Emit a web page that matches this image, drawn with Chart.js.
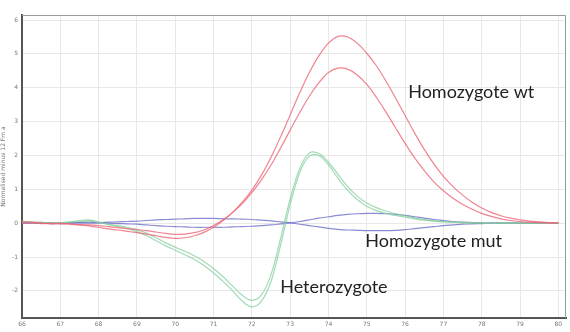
<!DOCTYPE html>
<html>
<head>
<meta charset="utf-8">
<script src="https://cdn.jsdelivr.net/npm/chart.js@4.4.1/dist/chart.umd.min.js"></script>
<style>
html,body{margin:0;padding:0;background:#fff;}
#wrap{width:570px;height:332px;position:relative;}
</style>
</head>
<body>
<div id="wrap"><canvas id="c" width="570" height="332"></canvas></div>
<script>
const temps = [66,66.25,66.5,66.75,67,67.25,67.5,67.75,68,68.25,68.5,68.75,69,69.25,69.5,69.75,70,70.25,70.5,70.75,71,71.25,71.5,71.75,72,72.25,72.5,72.75,73,73.25,73.5,73.75,74,74.25,74.5,74.75,75,75.25,75.5,75.75,76,76.25,76.5,76.75,77,77.25,77.5,77.75,78,78.25,78.5,78.75,79,79.25,79.5,79.75,80];

const wtHigh = [0.05,0.03,0.0,-0.02,0.0,-0.03,-0.05,-0.08,-0.12,-0.17,-0.2,-0.24,-0.28,-0.32,-0.37,-0.42,-0.45,-0.43,-0.37,-0.27,-0.12,0.08,0.32,0.62,0.98,1.42,1.95,2.55,3.2,3.85,4.45,4.95,5.32,5.52,5.5,5.32,5.02,4.65,4.2,3.7,3.18,2.66,2.18,1.75,1.38,1.08,0.83,0.62,0.45,0.32,0.22,0.15,0.1,0.06,0.04,0.02,0.01];
const wtLow = [0.0,0.02,-0.01,0.0,-0.02,-0.02,-0.04,-0.05,-0.07,-0.1,-0.13,-0.16,-0.19,-0.22,-0.26,-0.3,-0.33,-0.32,-0.28,-0.2,-0.07,0.1,0.32,0.58,0.9,1.28,1.72,2.22,2.75,3.27,3.75,4.15,4.45,4.58,4.55,4.38,4.1,3.72,3.28,2.82,2.36,1.93,1.55,1.22,0.96,0.74,0.56,0.41,0.29,0.2,0.13,0.08,0.05,0.03,0.02,0.01,0.0];
const hetA = [0.06,0.02,0.03,-0.01,0.02,0.04,0.08,0.1,0.04,-0.04,-0.1,-0.16,-0.25,-0.37,-0.52,-0.67,-0.8,-0.93,-1.07,-1.25,-1.47,-1.72,-2.0,-2.3,-2.47,-2.3,-1.72,-0.65,0.55,1.5,1.98,2.0,1.72,1.33,0.97,0.7,0.5,0.37,0.29,0.23,0.18,0.13,0.09,0.06,0.04,0.03,0.02,0.01,0.01,0,0,0,0,0,0,0,0];
const hetB = [0.02,0.04,0.01,0.02,0.0,0.03,0.05,0.07,0.02,-0.03,-0.07,-0.12,-0.19,-0.29,-0.43,-0.58,-0.71,-0.83,-0.96,-1.13,-1.34,-1.58,-1.86,-2.13,-2.28,-2.12,-1.52,-0.45,0.72,1.62,2.07,2.06,1.8,1.44,1.08,0.8,0.6,0.46,0.36,0.28,0.22,0.16,0.11,0.07,0.05,0.03,0.02,0.01,0.01,0,0,0,0,0,0,0,0];
const mutA = [0.02,0.0,0.01,-0.01,0.0,0.01,0.02,0.03,0.02,0.03,0.04,0.05,0.06,0.08,0.1,0.11,0.12,0.13,0.14,0.14,0.14,0.13,0.13,0.12,0.11,0.09,0.07,0.04,0.01,-0.03,-0.07,-0.11,-0.15,-0.18,-0.2,-0.21,-0.22,-0.22,-0.22,-0.21,-0.19,-0.16,-0.13,-0.1,-0.07,-0.05,-0.03,-0.02,-0.01,0,0,0,0,0,0,0,0];
const mutB = [0.0,0.02,0.0,0.01,-0.01,0.0,0.01,0.0,0.01,0.0,-0.01,-0.02,-0.03,-0.05,-0.07,-0.09,-0.1,-0.11,-0.12,-0.12,-0.12,-0.12,-0.11,-0.1,-0.09,-0.07,-0.05,-0.02,0.01,0.05,0.1,0.15,0.19,0.23,0.26,0.28,0.29,0.29,0.28,0.26,0.23,0.19,0.15,0.11,0.08,0.05,0.03,0.02,0.01,0,0,0,0,0,0,0,0];

const xTicks = [66,67,68,69,70,71,72,73,74,75,76,77,78,79,80];
const yTicks = [-2,-1,0,1,2,3,4,5,6];

const labelTexts = ["Homozygote wt","Homozygote mut","Heterozygote"];
const labelX = [76.08, 74.96, 72.74];
const labelY = [3.87, -0.53, -1.9];

const yTitle = "Normalised minus 12 Fm a";

const RED = "rgba(236,100,115,0.8)";
const GREEN = "rgba(130,205,155,0.75)";
const BLUE = "rgba(110,110,200,0.8)";

function pts(arr){ return temps.map((t,i)=>({x:t,y:arr[i]})); }
function ds(arr,color){
  return {data:pts(arr),borderColor:color,borderWidth:1.2,pointRadius:0,tension:0.35,fill:false};
}

const textPlugin = {
  id:'annot',
  afterDatasetsDraw(chart){
    const {ctx, scales:{x,y}, chartArea:a} = chart;
    ctx.save();
    ctx.strokeStyle = '#9a9a9a';
    ctx.lineWidth = 1;
    ctx.beginPath();
    ctx.moveTo(a.left, a.top+0.5);
    ctx.lineTo(a.right-0.5, a.top+0.5);
    ctx.lineTo(a.right-0.5, a.bottom);
    ctx.stroke();
    ctx.fillStyle = '#222';
    ctx.font = '18px Lato, "Open Sans", sans-serif';
    ctx.textBaseline = 'middle';
    ctx.textAlign = 'left';
    labelTexts.forEach((t,i)=>{
      ctx.fillText(t, x.getPixelForValue(labelX[i]), y.getPixelForValue(labelY[i]));
    });
    ctx.restore();
  }
};

function setTicks(vals){ return function(scale){ scale.ticks = vals.map(v=>({value:v})); }; }

new Chart(document.getElementById('c'),{
  type:'line',
  data:{datasets:[ds(wtHigh,RED),ds(wtLow,RED),ds(hetA,GREEN),ds(hetB,GREEN),ds(mutA,BLUE),ds(mutB,BLUE)]},
  options:{
    responsive:false,
    animation:false,
    layout:{padding:{top:15,right:4,left:0,bottom:0}},
    plugins:{legend:{display:false},tooltip:{enabled:false}},
    scales:{
      x:{type:'linear',min:66,max:80.2,
        ticks:{color:'#777',font:{size:6,family:'DejaVu Sans'},padding:3},
        afterBuildTicks:setTicks(xTicks),
        afterFit(s){s.height=14;},
        grid:{color:'#e8e8e8',drawTicks:false},
        border:{color:'#555',width:2}
      },
      y:{type:'linear',min:-2.8,max:6.15,
        ticks:{color:'#777',font:{size:6,family:'DejaVu Sans'},padding:4},
        afterBuildTicks:setTicks(yTicks),
        afterFit(s){s.width=22;},
        title:{display:true,text:yTitle,color:'#777',font:{size:6,family:'DejaVu Sans'},padding:0},
        grid:{color:'#e8e8e8',drawTicks:false},
        border:{color:'#555',width:2}
      }
    }
  },
  plugins:[textPlugin]
});
</script>
</body>
</html>
